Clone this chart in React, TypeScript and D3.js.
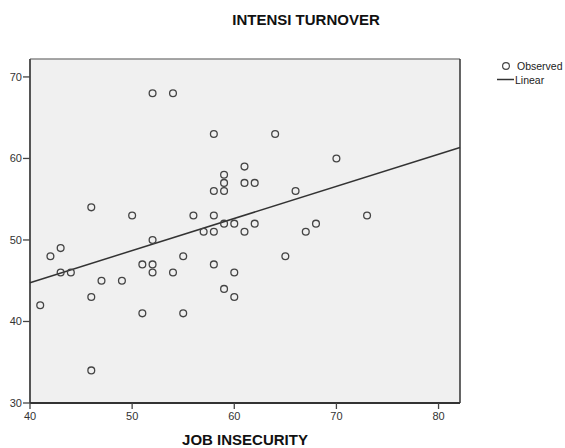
import * as d3 from "d3";

// observed points: [job insecurity, intensi turnover]
const JOB_INSECURITY = [
  41, 42, 43, 43, 44, 46, 46, 46, 47, 49, 50, 51, 51, 52, 52, 52, 52, 54, 54, 55, 55, 56, 57, 58,
  58, 58, 58, 58, 59, 59, 59, 59, 59, 60, 60, 60, 61, 61, 61, 62, 62, 64, 65, 66, 67, 68, 70, 73,
];
const INTENSI_TURNOVER = [
  42, 48, 49, 46, 46, 54, 43, 34, 45, 45, 53, 47, 41, 68, 50, 47, 46, 68, 46, 48, 41, 53, 51, 63,
  56, 53, 51, 47, 58, 57, 56, 52, 44, 52, 46, 43, 59, 57, 51, 57, 52, 63, 48, 56, 51, 52, 60, 53,
];

// linear fit
const FIT_INTERCEPT = 29.0;
const FIT_SLOPE = 0.394;

const X_DOMAIN = [40, 82.1];
const Y_DOMAIN = [30, 72.2];
const X_TICKS = [40, 50, 60, 70, 80];
const Y_TICKS = [30, 40, 50, 60, 70];

const W = 565;
const H = 448;
const PLOT = { left: 30, right: 460, top: 59, bottom: 403 };
const FONT = "'Liberation Sans', Arial, sans-serif";

export default function App() {
  const x = d3.scaleLinear().domain(X_DOMAIN).range([PLOT.left, PLOT.right]);
  const y = d3.scaleLinear().domain(Y_DOMAIN).range([PLOT.bottom, PLOT.top]);

  const fit = d3
    .line<number>()
    .x((d) => x(d))
    .y((d) => y(FIT_INTERCEPT + FIT_SLOPE * d));

  return (
    <svg
      width={W}
      height={H}
      style={{ position: "absolute", left: 0, top: 0, fontFamily: FONT }}
    >
      <rect width={W} height={H} fill="#fff" />
      <text x={306} y={25} fontSize={15} fontWeight="bold" textAnchor="middle" fill="#111">
        INTENSI TURNOVER
      </text>

      {/* plot area */}
      <rect
        x={PLOT.left}
        y={PLOT.top}
        width={PLOT.right - PLOT.left}
        height={PLOT.bottom - PLOT.top}
        fill="#f0f0f0"
      />
      <line x1={PLOT.left} x2={PLOT.right} y1={PLOT.top} y2={PLOT.top} stroke="#888" strokeWidth={1.5} />
      <line x1={PLOT.right} x2={PLOT.right} y1={PLOT.top} y2={PLOT.bottom} stroke="#333" strokeWidth={1.5} />
      <line x1={PLOT.left} x2={PLOT.left} y1={PLOT.top} y2={PLOT.bottom} stroke="#555" strokeWidth={2} />
      <line x1={PLOT.left} x2={PLOT.right} y1={PLOT.bottom} y2={PLOT.bottom} stroke="#333" strokeWidth={2} />

      {/* axes */}
      {X_TICKS.map((t) => (
        <g key={`tx-${t}`} transform={`translate(${x(t)},${PLOT.bottom})`}>
          <line y2={6} stroke="#444" strokeWidth={1.3} />
          <text y={17} fontSize={11} textAnchor="middle" fill="#333">
            {t}
          </text>
        </g>
      ))}
      {Y_TICKS.map((t) => (
        <g key={`ty-${t}`} transform={`translate(${PLOT.left},${y(t)})`}>
          <line x2={-7} stroke="#444" strokeWidth={1.3} />
          <text x={-8} y={4} fontSize={11} textAnchor="end" fill="#333">
            {t}
          </text>
        </g>
      ))}
      <text x={245} y={445} fontSize={15} fontWeight="bold" textAnchor="middle" fill="#111">
        JOB INSECURITY
      </text>

      {/* fit line */}
      <path d={fit(X_DOMAIN) ?? ""} fill="none" stroke="#333" strokeWidth={1.5} />

      {/* observed */}
      {JOB_INSECURITY.map((v, i) => (
        <circle
          key={i}
          cx={x(v)}
          cy={y(INTENSI_TURNOVER[i])}
          r={3.4}
          fill="none"
          stroke="#444"
          strokeWidth={1.3}
        />
      ))}

      {/* legend */}
      <circle cx={506} cy={66} r={3.4} fill="none" stroke="#444" strokeWidth={1.2} />
      <text x={517} y={70} fontSize={10.5} fill="#222">
        Observed
      </text>
      <line x1={497} x2={514} y1={79.5} y2={79.5} stroke="#333" strokeWidth={1.5} />
      <text x={515} y={83.5} fontSize={10.5} fill="#222">
        Linear
      </text>
    </svg>
  );
}
